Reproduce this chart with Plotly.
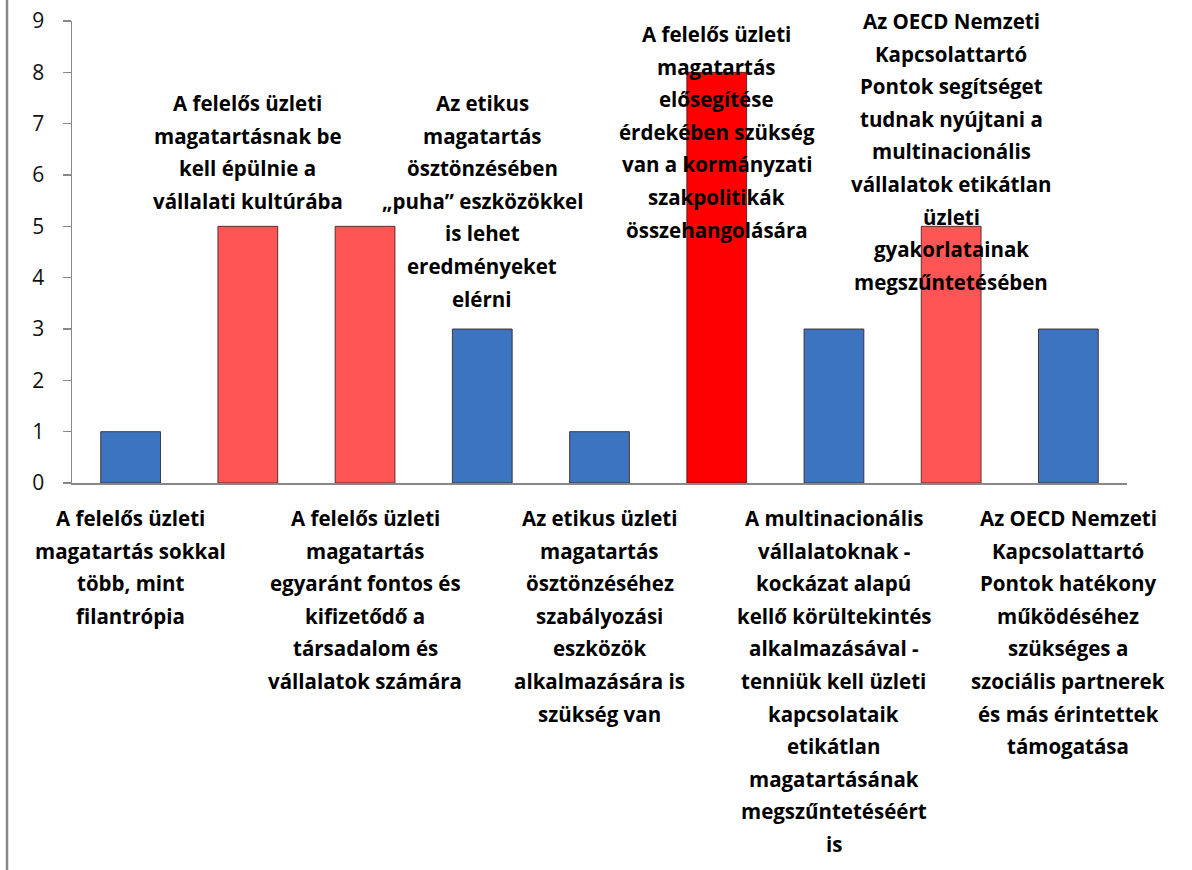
import plotly.graph_objects as go

# ---- data ----
values = [1, 5, 5, 3, 1, 8, 3, 5, 3]
labels = [
    ["A felelős üzleti", "magatartás sokkal", "több, mint", "filantrópia"],
    ["A felelős üzleti", "magatartásnak be", "kell épülnie a", "vállalati kultúrába"],
    ["A felelős üzleti", "magatartás", "egyaránt fontos és", "kifizetődő a", "társadalom és", "vállalatok számára"],
    ["Az etikus", "magatartás", "ösztönzésében", "„puha” eszközökkel", "is lehet", "eredményeket", "elérni"],
    ["Az etikus üzleti", "magatartás", "ösztönzéséhez", "szabályozási", "eszközök", "alkalmazására is", "szükség van"],
    ["A felelős üzleti", "magatartás", "elősegítése", "érdekében szükség", "van a kormányzati", "szakpolitikák", "összehangolására"],
    ["A multinacionális", "vállalatoknak -", "kockázat alapú", "kellő körültekintés", "alkalmazásával -", "tenniük kell üzleti", "kapcsolataik", "etikátlan", "magatartásának", "megszűntetéséért", "is"],
    ["Az OECD Nemzeti", "Kapcsolattartó", "Pontok segítséget", "tudnak nyújtani a", "multinacionális", "vállalatok etikátlan", "üzleti", "gyakorlatainak", "megszűntetésében"],
    ["Az OECD Nemzeti", "Kapcsolattartó", "Pontok hatékony", "működéséhez", "szükséges a", "szociális partnerek", "és más érintettek", "támogatása"],
]
colors = ["#3D74C0", "#FF5555", "#FF5555", "#3D74C0", "#3D74C0", "#FF0000", "#3D74C0", "#FF5555", "#3D74C0"]

# ---- layout constants (pixels; body margin removed via post_script) ----
W, H = 1192, 870
plot_left, plot_right, plot_top, plot_bottom = 72, 1127, 21, 483
L = plot_left
R = W - plot_right
T = plot_top
B = H - plot_bottom
plot_h = H - T - B
plot_w = W - L - R
line_h = 32.6
label_pos = ["below", 103, "below", 103, "below", 34, "below", 21, "below"]
below_start = 518
font_fam = "Open Sans"

x = list(range(len(values)))
fig = go.Figure(go.Bar(
    x=x, y=values, width=0.51,
    marker=dict(color=colors, line=dict(color="rgba(60,30,30,0.85)", width=1)),
    hoverinfo="skip",
))

annotations = []
for i, lines in enumerate(labels):
    pos = label_pos[i]
    start = below_start if pos == "below" else pos
    for j, ln in enumerate(lines):
        p = start + j * line_h
        annotations.append(dict(
            x=i, xref="x", y=0, yref="paper", yanchor="middle", xanchor="center",
            yshift=plot_bottom - p, text=ln, showarrow=False,
            font=dict(family=font_fam, size=20.5, color="#000000", weight="bold"),
        ))

fig.update_layout(
    width=W, height=H,
    margin=dict(l=L, r=R, t=T, b=B, autoexpand=False),
    paper_bgcolor="white", plot_bgcolor="white",
    showlegend=False,
    annotations=annotations,
    shapes=[dict(type="line", xref="paper", yref="paper",
                 x0=(7 - L) / plot_w, x1=(7 - L) / plot_w,
                 y0=-B / plot_h, y1=1 + T / plot_h,
                 line=dict(color="#888888", width=2.5))],
)
fig.update_xaxes(range=[-0.5, len(values) - 0.5], showticklabels=False, showgrid=False,
                 zeroline=False, showline=True, linecolor="#888888", linewidth=2, ticks="",
                 automargin=False)
fig.update_yaxes(range=[0, 9], dtick=1, showgrid=False, zeroline=False,
                 showline=True, linecolor="#888888", linewidth=1.5,
                 ticks="outside", ticklen=8, tickcolor="#888888", tickwidth=1.5,
                 ticklabelstandoff=14, ticklabeloverflow="allow", automargin=False,
                 tickfont=dict(family=font_fam, size=21, color="#111111"))

fig.write_html("out.html", config={"displayModeBar": False, "staticPlot": True},
               post_script="document.body.style.margin='0';document.body.style.overflow='hidden';")
